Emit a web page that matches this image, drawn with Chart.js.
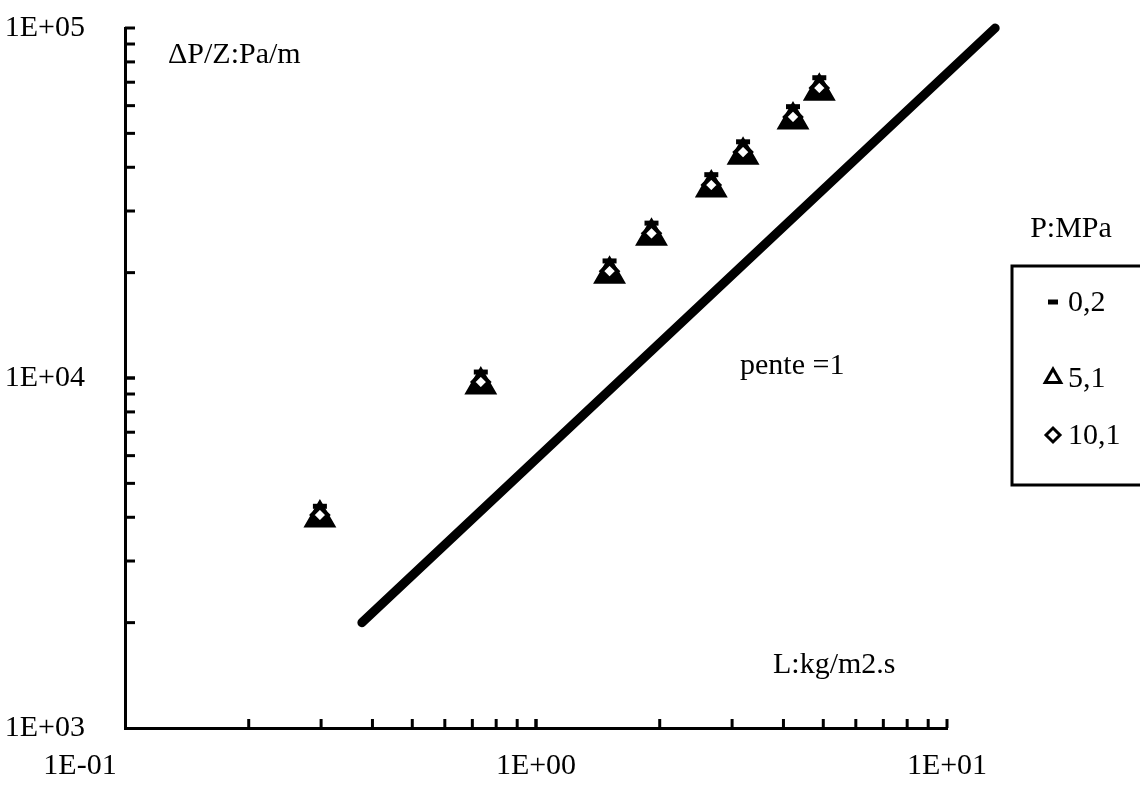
<!DOCTYPE html>
<html>
<head>
<meta charset="utf-8">
<script src="https://cdn.jsdelivr.net/npm/chart.js@4.4.1/dist/chart.umd.min.js"></script>
<style>
  body { margin: 0; background: #fff; }
  #wrap { width: 1140px; height: 787px; }
</style>
</head>
<body>
<div id="wrap"><canvas id="graph"></canvas></div>
<script>
// L : kg/m2.s
var xValues = [0.298, 0.734, 1.51, 1.91, 2.67, 3.19, 4.22, 4.89];
// dP/Z : Pa/m for each pressure
var p02 = [4300, 10400, 21600, 27700, 38100, 47300, 59600, 72100];
var p51 = [3980, 9550, 19800, 25400, 34900, 43300, 54600, 66000];
var p101 = [4060, 9740, 20200, 25900, 35600, 44200, 55700, 67400];
// pente = 1 line
var slopeX = [0.377, 13.1];
var slopeY = [2000, 100000];

var xTickValues = [0.1, 1, 10];
var xTickLabels = ['1E-01', '1E+00', '1E+01'];
var yTickValues = [1000, 10000, 100000];
var yTickLabels = ['1E+03', '1E+04', '1E+05'];
var seriesLabels = ['0,2', '5,1', '10,1'];

var serif = '"Liberation Serif", "Times New Roman", serif';
var fontSize = 30;

function pts(ys) {
    return xValues.map(function (x, i) { return { x: x, y: ys[i] }; });
}

var axisExtras = {
    id: 'axisExtras',
    afterDraw: function (chart) {
        var ctx = chart.ctx;
        var xs = chart.scales.x, ys = chart.scales.y;
        var area = chart.chartArea;
        ctx.save();
        ctx.strokeStyle = '#000';
        ctx.fillStyle = '#000';
        ctx.lineWidth = 3;
        // inward ticks on x
        [0.1, 1].forEach(function (dec) {
            for (var k = 1; k <= 10; k++) {
                var v = dec * k;
                if (v <= 0.1) continue;
                var px = xs.getPixelForValue(v);
                ctx.beginPath();
                ctx.moveTo(px, area.bottom);
                ctx.lineTo(px, area.bottom - 9);
                ctx.stroke();
            }
        });
        // inward ticks on y
        [1000, 10000].forEach(function (dec) {
            for (var k = 1; k <= 10; k++) {
                var v = dec * k;
                if (v <= 1000) continue;
                var py = ys.getPixelForValue(v);
                ctx.beginPath();
                ctx.moveTo(area.left, py);
                ctx.lineTo(area.left + 10, py);
                ctx.stroke();
            }
        });
        // x tick labels
        ctx.font = fontSize + 'px ' + serif;
        ctx.textAlign = 'center';
        ctx.textBaseline = 'middle';
        xTickValues.forEach(function (v, i) {
            var px = xs.getPixelForValue(v);
            if (i === 0) px -= 45;
            ctx.fillText(xTickLabels[i], px, area.bottom + 38);
        });
        // axis titles and note
        ctx.textAlign = 'left';
        ctx.fillText('\u0394P/Z:Pa/m', 168, 55);
        ctx.fillText('pente =1', 740, 366);
        ctx.fillText('L:kg/m2.s', 773, 665);

        // legend
        ctx.textAlign = 'center';
        ctx.fillText('P:MPa', 1071, 229);
        ctx.lineWidth = 3;
        ctx.strokeRect(1012, 266, 140, 219);
        var rowY = [302, 378, 435];
        ctx.textAlign = 'left';
        chart.data.datasets.forEach(function (ds, i) {
            if (i > 2) return;
            var y = rowY[i];
            ctx.save();
            ctx.strokeStyle = '#000';
            ctx.fillStyle = '#fff';
            ctx.lineWidth = ds.legendBorder;
            Chart.helpers.drawPoint(ctx, {
                pointStyle: ds.pointStyle,
                radius: ds.legendRadius,
                borderWidth: ds.legendBorder,
                rotation: 0
            }, 1053, y);
            ctx.restore();
            ctx.fillText(ds.label, 1068, y + 1);
        });
        ctx.restore();
    }
};

var ctx = document.getElementById('graph').getContext('2d');
var myChart = new Chart(ctx, {
    type: 'scatter',
    data: {
        datasets: [{
            label: seriesLabels[0],
            data: pts(p02),
            pointStyle: 'line',
            pointRadius: 7,
            borderWidth: 5,
            borderColor: '#000',
            backgroundColor: '#000',
            legendRadius: 5,
            legendBorder: 5,
            order: 0
        }, {
            label: seriesLabels[1],
            data: pts(p51),
            pointStyle: 'triangle',
            pointRadius: 14,
            borderWidth: 5,
            borderColor: '#000',
            backgroundColor: '#000',
            legendRadius: 9,
            legendBorder: 3,
            order: 2
        }, {
            label: seriesLabels[2],
            data: pts(p101),
            pointStyle: 'rectRot',
            pointRadius: 8,
            borderWidth: 4,
            borderColor: '#000',
            backgroundColor: '#fff',
            legendRadius: 7,
            legendBorder: 3,
            order: 1
        }, {
            type: 'line',
            label: 'pente =1',
            data: slopeX.map(function (x, i) { return { x: x, y: slopeY[i] }; }),
            borderColor: '#000',
            borderWidth: 9,
            borderCapStyle: 'round',
            pointRadius: 0,
            clip: false,
            order: 3
        }]
    },
    options: {
        responsive: true,
        maintainAspectRatio: false,
        animation: false,
        layout: { padding: { top: 28, right: 193, left: 0, bottom: 0 } },
        plugins: {
            legend: { display: false },
            tooltip: { enabled: false }
        },
        scales: {
            x: {
                type: 'logarithmic',
                min: 0.1,
                max: 10,
                grid: { display: false, drawTicks: false },
                border: { display: true, color: '#000', width: 3 },
                ticks: { display: false },
                afterFit: function (s) { s.height = 59; s.paddingLeft = 0; s.paddingRight = 0; }
            },
            y: {
                type: 'logarithmic',
                min: 1000,
                max: 100000,
                grid: { display: false, drawTicks: false },
                border: { display: true, color: '#000', width: 3 },
                ticks: {
                    autoSkip: false,
                    padding: 40,
                    color: '#000',
                    font: { family: serif, size: fontSize },
                    callback: function (v) {
                        var i = yTickValues.indexOf(v);
                        return i >= 0 ? yTickLabels[i] : '';
                    }
                },
                afterFit: function (s) { s.width = 125; s.paddingTop = 0; s.paddingBottom = 0; }
            }
        }
    },
    plugins: [axisExtras]
});
</script>
</body>
</html>
